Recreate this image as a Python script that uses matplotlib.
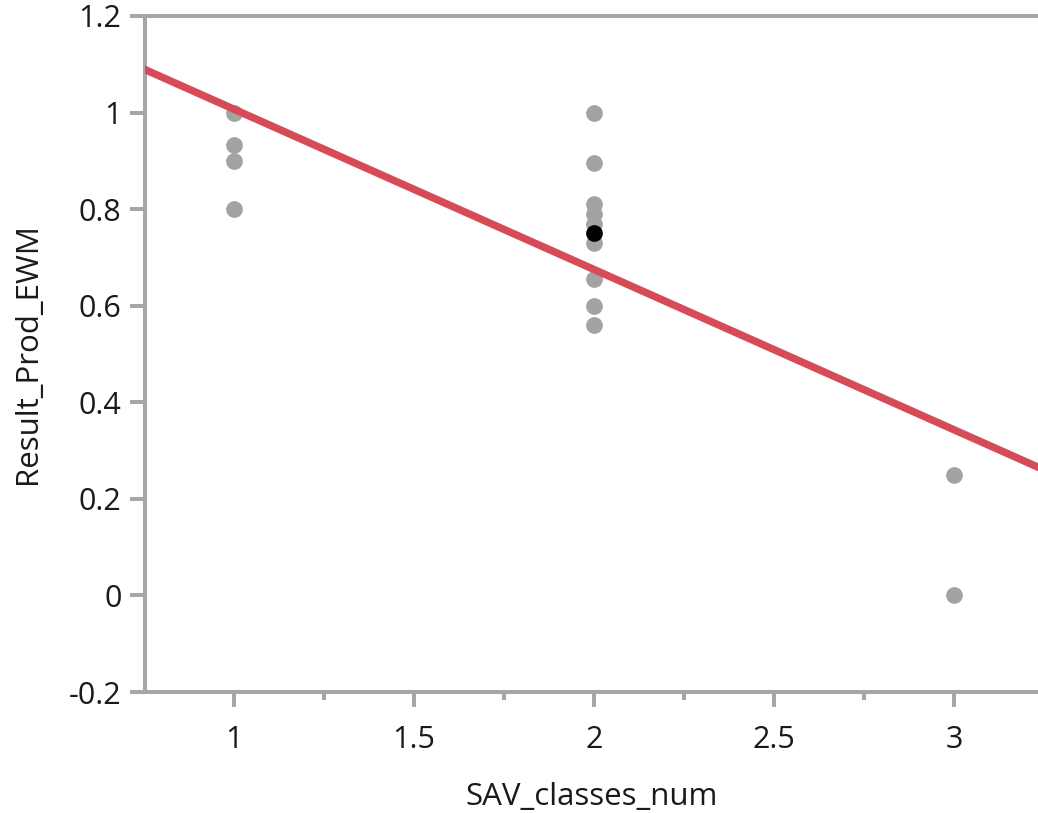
import matplotlib
matplotlib.use("Agg")
import matplotlib.pyplot as plt
from matplotlib.ticker import MultipleLocator, FixedLocator

# Data
x_grey = [1, 1, 1, 1,
          2, 2, 2, 2, 2, 2, 2, 2, 2,
          3, 3]
y_grey = [1.0, 0.933, 0.9, 0.8,
          1.0, 0.895, 0.81, 0.79, 0.77, 0.73, 0.655, 0.6, 0.56,
          0.25, 0.0]
x_black = [2]
y_black = [0.75]
fit_intercept = 1.339
fit_slope = -0.332
x_ticks = [1, 1.5, 2, 2.5, 3]
x_tick_labels = ["1", "1.5", "2", "2.5", "3"]
y_ticks = [-0.2, 0, 0.2, 0.4, 0.6, 0.8, 1.0, 1.2]
y_tick_labels = ["-0.2", "0", "0.2", "0.4", "0.6", "0.8", "1", "1.2"]

plt.rcParams['font.family'] = ['Open Sans', 'DejaVu Sans']

fig = plt.figure(figsize=(10.38, 8.13), dpi=100)
ax = fig.add_axes([145/1038, 1 - 692/813, 1 - 145/1038, (692 - 16)/813])

spine_c = '#A6A6A6'
ax.scatter(x_grey, y_grey, s=145, color='#A3A3A3', zorder=3, linewidths=0)
ax.scatter(x_black, y_black, s=145, color='#000000', zorder=4, linewidths=0)
ax.axline((0, fit_intercept), slope=fit_slope, color='#D64B58', lw=5.4, zorder=5)

ax.set_xlim(0.753, 3.233)
ax.set_ylim(-0.2, 1.2)
ax.xaxis.set_major_locator(FixedLocator(x_ticks))
ax.set_xticklabels(x_tick_labels)
ax.xaxis.set_minor_locator(MultipleLocator(0.25))
ax.set_yticks(y_ticks)
ax.set_yticklabels(y_tick_labels)

for side in ['left', 'bottom', 'top']:
    ax.spines[side].set_color(spine_c)
    ax.spines[side].set_linewidth(2.9)
ax.spines['right'].set_visible(False)

ax.tick_params(axis='both', which='major', length=11, width=2.9, color=spine_c,
               labelsize=22, labelcolor='#1a1a1a')
ax.tick_params(axis='x', which='minor', length=5.5, width=2.9, color=spine_c)
ax.tick_params(axis='x', which='major', pad=13)
ax.tick_params(axis='y', which='major', pad=6)

ax.set_xlabel('SAV_classes_num', fontsize=22.5, color='#1a1a1a', labelpad=19)
ax.set_ylabel('Result_Prod_EWM', fontsize=22.5, color='#1a1a1a', labelpad=18.5)

fig.savefig('out.png', dpi=100)
